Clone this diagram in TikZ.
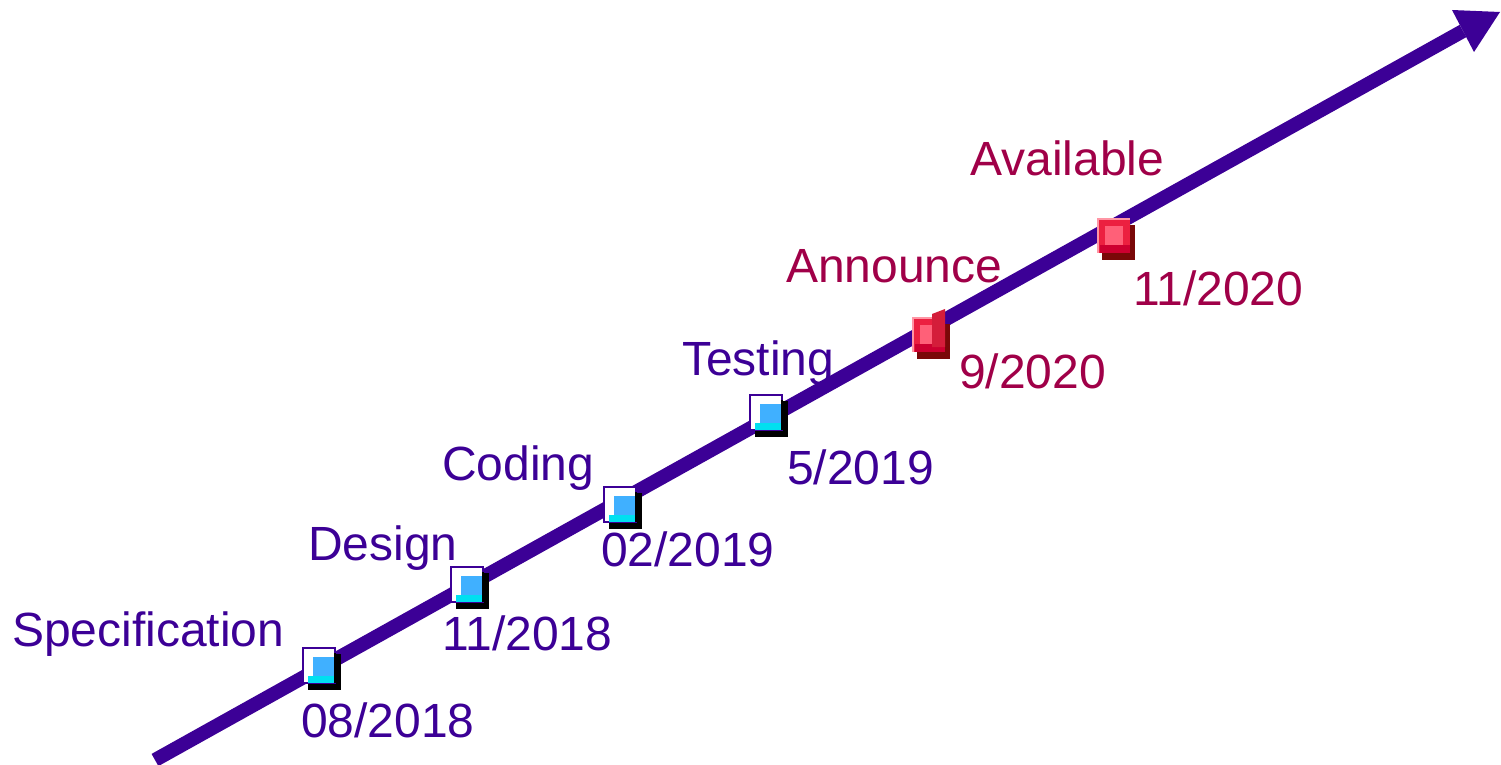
\documentclass[tikz,border=0pt]{standalone}
\usepackage{fontspec}
\setmainfont{Liberation Sans}
\definecolor{tlpurple}{RGB}{60,0,150}
\definecolor{tlred}{RGB}{160,0,72}
\definecolor{mkblue}{RGB}{64,176,255}
\definecolor{mkcyan}{RGB}{0,224,240}
\definecolor{mkred}{RGB}{236,32,64}
\definecolor{mkpink}{RGB}{255,96,120}
\definecolor{mklight}{RGB}{255,150,165}
\definecolor{mkdark}{RGB}{122,8,8}
\definecolor{mkmid}{RGB}{205,0,48}
\tikzset{
  lbl/.style={anchor=base west,inner sep=0pt,font=\fontsize{48}{58}\selectfont},
  bluelbl/.style={lbl,text=tlpurple},
  redlbl/.style={lbl,text=tlred},
  bluemark/.pic={
    \fill[black] (5,6) rectangle (38,42);
    \filldraw[fill=white,draw=tlpurple,line width=2.5pt] (0,0) rectangle (32,35);
    \fill[mkcyan] (5,28) rectangle (32,35);
    \fill[mkblue] (10,9) rectangle (31,28);
    \fill[black] (31,5) rectangle (33,35);
  },
  redmark/.pic={
    \fill[mkdark] (5,7) rectangle (38,42);
    \fill[mklight] (0,0) rectangle (33,35);
    \fill[mkred] (2,2) rectangle (33,35);
    \fill[mkmid] (3,27) rectangle (33,35);
    \fill[mkpink] (8,8) rectangle (26,27);
  },
  flapmark/.pic={
    \fill[mkdark] (5,7) rectangle (38,42);
    \fill[mklight] (0,0) rectangle (33,35);
    \fill[mkred] (2,2) rectangle (33,35);
    \fill[mkmid] (3,27) rectangle (33,35);
    \fill[mkpink] (8,8) rectangle (26,27);
    \fill[mkred!90!black] (20,-3) -- (33,-8) -- (33,30) -- (20,30) -- cycle;
  }
}
\begin{document}
\begin{tikzpicture}[x=1pt,y=-1pt]
\useasboundingbox (0,0) rectangle (1501,765);
% axis arrow
\coordinate (start) at (155,760);
\coordinate (basemid) at (1463,31);
\coordinate (tip) at (1500,12);
\coordinate (hl) at (1452,10);
\coordinate (hr) at (1474,52);
\draw[tlpurple,line width=14pt] (start) -- (basemid);
\fill[tlpurple] (hl) -- (tip) -- (hr) -- cycle;
% markers (top-left corners)
\pic at (303,648) {bluemark};
\pic at (451,567) {bluemark};
\pic at (604,487) {bluemark};
\pic at (750,395) {bluemark};
\pic at (912,317) {flapmark};
\pic at (1097,218) {redmark};
% labels
\node[bluelbl] (l1) at (12,646) {Specification};
\node[bluelbl] (d1) at (301,737) {08/2018};
\node[bluelbl] (l2) at (308,560) {Design};
\node[bluelbl] (d2) at (442,650) {11/2018};
\node[bluelbl] (l3) at (442,480) {Coding};
\node[bluelbl] (d3) at (601,566) {02/2019};
\node[bluelbl] (l4) at (682,375) {Testing};
\node[bluelbl] (d4) at (787,484) {5/2019};
\node[redlbl] (l5) at (786,282) {Announce};
\node[redlbl] (d5) at (959,388) {9/2020};
\node[redlbl] (l6) at (970,175) {Available};
\node[redlbl] (d6) at (1133,305) {11/2020};
\end{tikzpicture}
\end{document}
